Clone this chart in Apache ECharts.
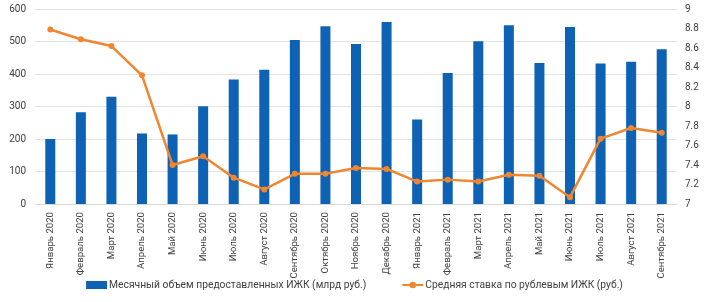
<!DOCTYPE html>
<html>
<head>
<meta charset="utf-8">
<script src="https://cdn.jsdelivr.net/npm/echarts@6/dist/echarts.min.js"></script>
<style>
  html, body { margin: 0; padding: 0; background: #fff; }
  #chart { width: 709px; height: 302px; }
</style>
</head>
<body>
<div id="chart"></div>
<script>
// месяцы
var months = [
  'Январь 2020', 'Февраль 2020', 'Март 2020', 'Апрель 2020', 'Май 2020', 'Июнь 2020',
  'Июль 2020', 'Август 2020', 'Сентябрь 2020', 'Октябрь 2020', 'Ноябрь 2020', 'Декабрь 2020',
  'Январь 2021', 'Февраль 2021', 'Март 2021', 'Апрель 2021', 'Май 2021', 'Июнь 2021',
  'Июль 2021', 'Август 2021', 'Сентябрь 2021'
]
// объем выдачи, млрд руб.
var volume = [200, 282, 330, 217, 214, 301, 383, 413, 505, 547, 492, 560,
  260, 403, 501, 550, 434, 545, 432, 438, 476]
// средняя ставка
var rate = [8.79, 8.69, 8.62, 8.32, 7.40, 7.49, 7.27, 7.15, 7.31, 7.31, 7.37, 7.36,
  7.23, 7.25, 7.23, 7.30, 7.29, 7.07, 7.67, 7.78, 7.73]

var volumeName = 'Месячный объем предоставленных ИЖК (млрд руб.)'
var rateName = 'Средняя ставка по рублевым ИЖК (руб.)'

var chart = echarts.init(document.getElementById('chart'))
var option = {
  animation: false,
  textStyle: { fontFamily: 'Roboto' },
  grid: { left: 35, right: 32, top: 9, bottom: 98 },
  legend: {
    bottom: 7,
    left: 'center',
    itemGap: 35,
    itemWidth: 21,
    itemHeight: 8,
    textStyle: { color: '#404040', fontSize: 10.3, fontFamily: 'Roboto', padding: [0, 0, 0, -3] },
    data: [
      { name: volumeName, icon: 'rect' },
      { name: rateName }
    ]
  },
  xAxis: {
    type: 'category',
    data: months,
    axisLine: { lineStyle: { color: '#d9d9d9' } },
    axisTick: { show: false },
    axisLabel: { rotate: 90, color: '#404040', fontSize: 9.6, margin: 8, interval: 0 }
  },
  yAxis: [
    {
      type: 'value',
      min: 0, max: 600, interval: 100,
      axisLabel: { color: '#404040', fontSize: 10, margin: 9 },
      splitLine: { lineStyle: { color: '#e3e3e3' } }
    },
    {
      type: 'value',
      min: 7, max: 9, interval: 0.2,
      axisLabel: { color: '#404040', fontSize: 10, margin: 8, formatter: function (v) { return +v.toFixed(1) } },
      splitLine: { show: false }
    }
  ],
  series: [
    {
      name: volumeName,
      type: 'bar',
      data: volume,
      barWidth: 10,
      itemStyle: { color: '#0d62b3' }
    },
    {
      name: rateName,
      type: 'line',
      yAxisIndex: 1,
      data: rate,
      symbol: 'circle',
      symbolSize: 6,
      lineStyle: { color: '#f0862f', width: 2.5 },
      itemStyle: { color: '#f0862f' }
    }
  ]
}
chart.setOption(option)
</script>
</body>
</html>
